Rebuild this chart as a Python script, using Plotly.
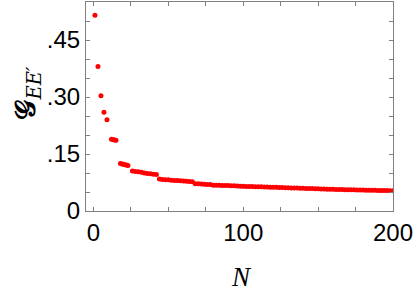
import plotly.graph_objects as go

# N values (sample index) and G_EE' values
n_values = [1, 3, 5, 7, 9,
            12, 13, 14, 15,
            18, 19, 20, 21, 22, 23,
            26, 28, 30, 32, 34, 36, 38, 40, 42,
            44, 46, 48, 50, 52, 54, 56, 58, 60, 62, 64, 66,
            68, 70, 72, 74, 76, 78,
            80, 82, 84, 86, 88, 90, 92, 94,
            96, 98, 100, 102, 104, 106, 108, 110, 112, 114, 116, 118, 120, 122, 124, 126,
            128, 130, 132, 134, 136, 138, 140, 142, 144, 146, 148, 150,
            152, 154, 156, 158, 160, 162, 164, 166, 168, 170, 172, 174, 176, 178, 180,
            182, 184, 186, 188, 190, 192, 194, 196, 198, 200]
g_values = [0.515, 0.380, 0.303, 0.260, 0.240,
            0.189, 0.188, 0.187, 0.186,
            0.125, 0.124, 0.123, 0.122, 0.121, 0.120,
            0.105, 0.104, 0.103, 0.102, 0.100, 0.099, 0.098, 0.097, 0.096,
            0.084, 0.083, 0.0825, 0.082, 0.081, 0.0805, 0.080, 0.0795, 0.079, 0.078, 0.0775, 0.077,
            0.072, 0.0715, 0.071, 0.0705, 0.070, 0.0695,
            0.068, 0.0678, 0.0675, 0.0672, 0.067, 0.0668, 0.0665, 0.0662,
            0.0655, 0.0652, 0.065, 0.0648, 0.0645, 0.0642, 0.064, 0.0638, 0.0635, 0.0632, 0.063, 0.0628, 0.0625, 0.0622, 0.062, 0.0618,
            0.0612, 0.061, 0.0608, 0.0605, 0.0602, 0.060, 0.0598, 0.0595, 0.0592, 0.059, 0.0588, 0.0585,
            0.0578, 0.0576, 0.0574, 0.0572, 0.057, 0.0568, 0.0566, 0.0564, 0.0562, 0.056, 0.0558, 0.0556, 0.0554, 0.0552, 0.055,
            0.0548, 0.0546, 0.0545, 0.0543, 0.0542, 0.054, 0.0539, 0.0538, 0.0536, 0.0535]

x_tick_vals = [0, 100, 200]
x_tick_text = ["0", "100", "200"]
y_tick_vals = [0, 0.15, 0.30, 0.45]
y_tick_text = ["0", ".15", ".30", ".45"]

fig = go.Figure()
fig.add_trace(go.Scatter(
    x=n_values, y=g_values, mode="markers",
    marker=dict(color="#ff0000", size=5, line=dict(width=0)),
    showlegend=False,
))

axis_common = dict(
    showline=True, linecolor="#808080", linewidth=1, mirror="ticks",
    ticks="inside", ticklen=4, tickcolor="#808080", tickwidth=1,
    showgrid=False, zeroline=False, automargin=False,
    tickfont=dict(family="Liberation Sans, Arial, sans-serif", size=24, color="black"),
)
minor_common = dict(ticks="inside", ticklen=4, tickcolor="#808080", tickwidth=1, showgrid=False)

fig.update_layout(
    width=415, height=291,
    margin=dict(l=86, r=22, t=2, b=80),
    paper_bgcolor="white", plot_bgcolor="white",
    xaxis=dict(range=[-5, 200], tickmode="array", tickvals=x_tick_vals,
               ticktext=x_tick_text, minor=dict(tick0=0, dtick=25, **minor_common),
               **axis_common),
    yaxis=dict(range=[0, 0.55], tickmode="array", tickvals=y_tick_vals,
               ticktext=y_tick_text, minor=dict(tick0=0, dtick=0.05, **minor_common),
               **axis_common),
    annotations=[
        dict(text="<i>N</i>", xref="paper", yref="paper", x=0.506, y=-0.315,
             xanchor="center", yanchor="middle", showarrow=False,
             font=dict(family="Liberation Serif, Times New Roman, serif", size=27, color="black")),
        dict(text="<b>𝒢</b><sub><i>EE′</i></sub>", xref="paper", yref="paper",
             x=-0.19, y=0.565, xanchor="center", yanchor="middle", textangle=-90,
             showarrow=False,
             font=dict(family="DejaVu Serif, Liberation Serif, serif", size=28, color="black")),
    ],
)

fig.write_html("out.html", config={"displayModeBar": False},
               post_script="document.body.style.margin='0';")
